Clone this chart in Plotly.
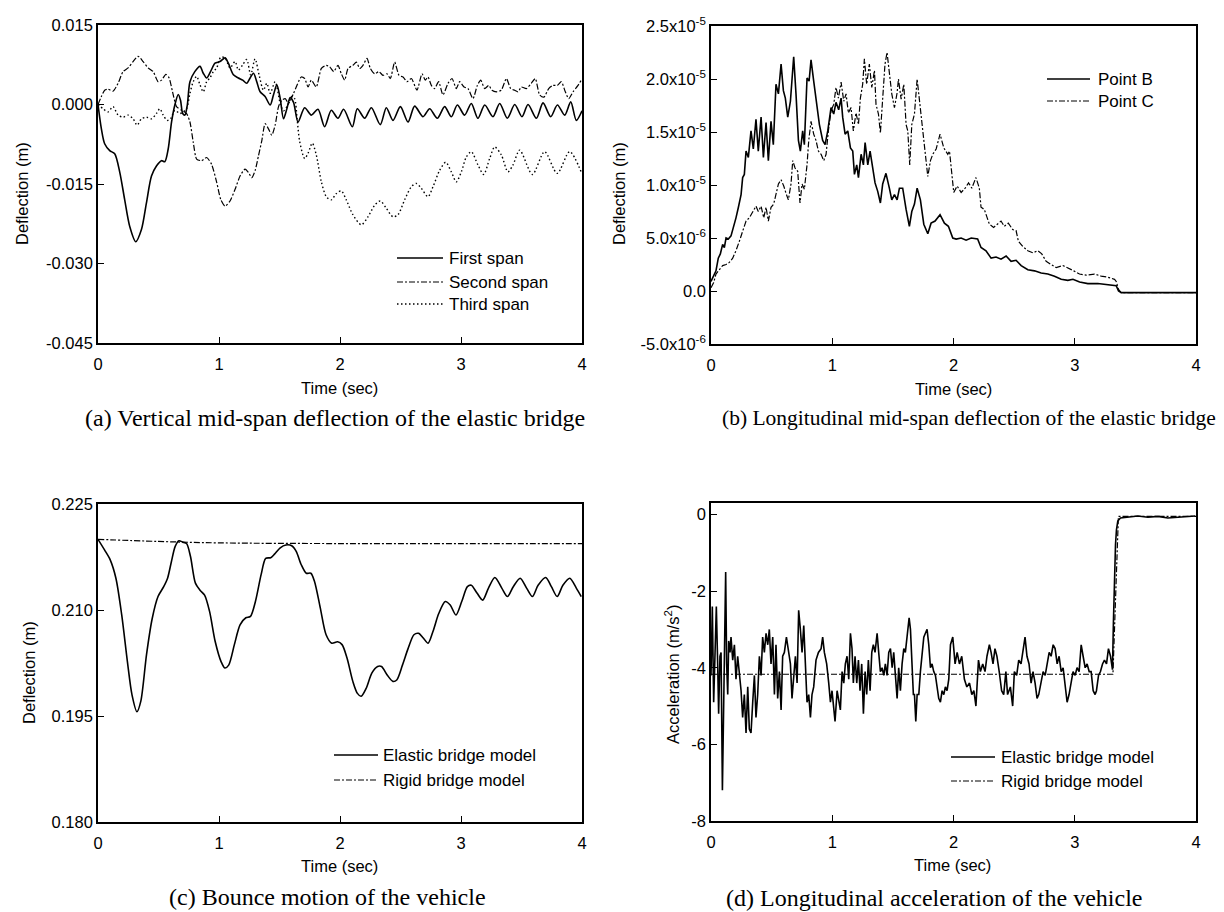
import plotly.graph_objects as go

# ---------------- data ----------------
# (a) vertical mid-span deflection (m)
A_FIRST_T = [0, 0.028, 0.055, 0.097, 0.138, 0.18, 0.22, 0.262, 0.312, 0.359, 0.40, 0.442, 0.483, 0.525, 0.552, 0.58, 0.608, 0.635, 0.663, 0.682, 0.70, 0.718, 0.738, 0.76, 0.80, 0.843, 0.87, 0.898, 0.93, 0.967, 1.008, 1.05, 1.077, 1.119, 1.16, 1.196, 1.229, 1.257, 1.285, 1.312, 1.34, 1.381, 1.423, 1.45, 1.478, 1.506, 1.533, 1.561, 1.588, 1.616,
             1.653, 1.708, 1.763, 1.818, 1.873, 1.928, 1.983, 2.03, 2.102, 2.143, 2.204, 2.259, 2.333, 2.383, 2.438, 2.499, 2.562, 2.617, 2.686, 2.741, 2.804, 2.865, 2.92, 2.97, 3.03, 3.085, 3.14, 3.196, 3.264, 3.32, 3.383, 3.444, 3.504, 3.554, 3.623, 3.678, 3.741, 3.797, 3.857, 3.907, 3.953, 4.0]
A_FIRST_Y = [0, -0.0046, -0.0074, -0.0087, -0.0093, -0.0128, -0.0179, -0.0230, -0.0259, -0.0236, -0.0186, -0.0135, -0.0116, -0.0106, -0.0108, -0.0084, -0.0033, -0.0001, 0.0019, 0.0008, -0.0017, -0.0020, -0.0001, 0.0043, 0.0062, 0.0072, 0.0059, 0.0050, 0.0062, 0.0078, 0.0081, 0.0088, 0.0078, 0.0056, 0.0050, 0.0046, 0.0040, 0.0050, 0.0059, 0.0043, 0.0024, 0.0015, -0.0001, 0.0018, 0.0037, 0.0011, -0.0027, -0.0008, 0.0013, 0.0004,
             -0.0033, -0.0006, -0.0020, -0.0009, -0.0042, -0.0011, -0.0026, -0.0009, -0.0042, -0.0008, -0.0026, -0.0006, -0.0038, -0.0006, -0.0030, -0.0004, -0.0033, -0.0003, -0.0023, -0.0008, -0.0026, -0.0004, -0.0023, -0.0001, -0.0020, 0.0002, -0.0026, -0.0001, -0.0023, 0.0002, -0.0026, 0.0000, -0.0023, 0.0000, -0.0026, 0.0003, -0.0023, -0.0001, -0.0020, 0.0005, -0.0030, -0.0012]

A_SECOND_T = [0, 0.028, 0.055, 0.083, 0.124, 0.166, 0.207, 0.249, 0.29, 0.331, 0.373, 0.414, 0.456, 0.497, 0.525, 0.561, 0.588, 0.616, 0.649, 0.69, 0.732, 0.76, 0.787, 0.815, 0.856, 0.898, 0.939, 0.981, 1.014, 1.05, 1.091, 1.133, 1.174, 1.215, 1.243, 1.271, 1.298, 1.326, 1.354, 1.381, 1.409, 1.436, 1.464, 1.492, 1.519, 1.547, 1.575, 1.616,
              1.68, 1.708, 1.736, 1.763, 1.804, 1.846, 1.887, 1.915, 1.948, 1.983, 2.011, 2.039, 2.066, 2.107, 2.135, 2.163, 2.19, 2.223, 2.251, 2.286, 2.322, 2.355, 2.388, 2.416, 2.452, 2.488, 2.521, 2.554, 2.59, 2.636,
              2.678, 2.705, 2.727, 2.755, 2.782, 2.815, 2.851, 2.893, 2.926, 2.961, 2.989, 3.025, 3.058, 3.099, 3.135, 3.163, 3.196, 3.229, 3.256, 3.292, 3.333, 3.375, 3.411, 3.444, 3.471, 3.499, 3.54, 3.581, 3.614, 3.65, 3.686, 3.725, 3.76, 3.796, 3.829, 3.862, 3.89, 3.926, 3.967, 3.994]
A_SECOND_Y = [0, 0.0015, 0.0027, 0.0029, 0.0025, 0.0040, 0.0062, 0.0069, 0.0081, 0.0091, 0.0081, 0.0069, 0.0062, 0.0043, 0.0046, 0.0057, 0.0050, 0.0024, -0.0004, -0.0011, -0.0017, -0.0033, -0.0071, -0.0103, -0.0106, -0.0100, -0.0113, -0.0147, -0.0179, -0.0192, -0.0182, -0.0160, -0.0135, -0.0122, -0.0128, -0.0138, -0.0125, -0.0097, -0.0068, -0.0036, -0.0046, -0.0058, -0.0039, -0.0004, 0.0008, 0.0011, 0.0002, 0.0021,
              0.0052, 0.0049, 0.0033, 0.0046, 0.0033, 0.0068, 0.0074, 0.0071, 0.0062, 0.0074, 0.0058, 0.0046, 0.0068, 0.0074, 0.0080, 0.0068, 0.0074, 0.0087, 0.0068, 0.0058, 0.0062, 0.0055, 0.0058, 0.0049, 0.0080, 0.0055, 0.0052, 0.0043, 0.0049, 0.0027,
              0.0058, 0.0046, 0.0052, 0.0036, 0.0030, 0.0043, 0.0018, 0.0040, 0.0049, 0.0030, 0.0043, 0.0033, 0.0030, 0.0011, 0.0036, 0.0046, 0.0030, 0.0036, 0.0027, 0.0024, 0.0027, 0.0049, 0.0030, 0.0027, 0.0024, 0.0033, 0.0030, 0.0040, 0.0049, 0.0018, 0.0014, 0.0030, 0.0036, 0.0036, 0.0043, 0.0024, 0.0011, 0.0024, 0.0036, 0.0046]

A_THIRD_T = [0, 0.041, 0.083, 0.124, 0.166, 0.207, 0.249, 0.29, 0.323, 0.359, 0.401, 0.442, 0.483, 0.511, 0.539, 0.572, 0.6, 0.635, 0.677, 0.704, 0.732, 0.76, 0.787, 0.815, 0.843, 0.87, 0.898, 0.925, 0.953, 0.981, 1.014, 1.05, 1.091, 1.133, 1.16, 1.196, 1.229, 1.262, 1.298, 1.334, 1.367, 1.395, 1.423, 1.464, 1.506, 1.533, 1.566, 1.602,
             1.625, 1.645, 1.667, 1.708, 1.736, 1.771, 1.804, 1.846, 1.887, 1.928, 1.97, 2.011, 2.052, 2.107, 2.176, 2.231, 2.287, 2.333, 2.383, 2.438, 2.479, 2.534, 2.59, 2.631, 2.672, 2.727, 2.769, 2.824, 2.873, 2.92, 2.961, 3.003, 3.044, 3.085, 3.14, 3.187, 3.237, 3.278, 3.333, 3.388, 3.43, 3.485, 3.59, 3.691, 3.795, 3.898, 4.0]
A_THIRD_Y = [0, -0.0008, -0.0014, -0.0004, -0.0020, -0.0024, -0.0020, -0.0027, -0.0039, -0.0027, -0.0024, -0.0027, -0.0017, -0.0008, -0.0020, -0.0030, -0.0027, -0.0011, -0.0017, -0.0014, -0.0008, 0.0021, 0.0043, 0.0053, 0.0037, 0.0024, 0.0043, 0.0050, 0.0062, 0.0069, 0.0089, 0.0088, 0.0069, 0.0081, 0.0065, 0.0075, 0.0085, 0.0056, 0.0086, 0.0053, 0.0027, 0.0040, 0.0021, 0.0043, 0.0002, -0.0012, -0.0002, 0.0015,
             0.0011, -0.0026, -0.0070, -0.0102, -0.0092, -0.0073, -0.0095, -0.0146, -0.0174, -0.0180, -0.0168, -0.0163, -0.0180, -0.0208, -0.0227, -0.0212, -0.0190, -0.0182, -0.0196, -0.0212, -0.0208, -0.0180, -0.0155, -0.0149, -0.0158, -0.0174, -0.0155, -0.0124, -0.0109, -0.0127, -0.0146, -0.0127, -0.0099, -0.0089, -0.0114, -0.0132, -0.0102, -0.0080, -0.0095, -0.0127, -0.0114, -0.0086, -0.0132, -0.0089, -0.0130, -0.0089, -0.0131]

# (b) longitudinal mid-span deflection (m)
B_POINTB_T = [0, 0.014, 0.041, 0.06, 0.077, 0.096, 0.11, 0.124, 0.143, 0.165, 0.187, 0.206, 0.226, 0.248, 0.261, 0.275, 0.289, 0.308, 0.33, 0.349, 0.371, 0.39, 0.413, 0.432, 0.454, 0.473, 0.495, 0.514, 0.536, 0.556, 0.578, 0.597, 0.613, 0.633, 0.655, 0.682, 0.701, 0.721, 0.737, 0.756, 0.77, 0.792, 0.809, 0.825, 0.847, 0.866, 0.894, 0.921, 0.941, 0.963, 0.99, 1.012, 1.031, 1.053, 1.073, 1.086, 1.106, 1.128, 1.15, 1.169, 1.183, 1.202, 1.216, 1.238, 1.257, 1.271, 1.293, 1.312, 1.334, 1.353, 1.375, 1.397, 1.416, 1.443, 1.471, 1.491, 1.513, 1.535, 1.554, 1.581, 1.609, 1.636, 1.656, 1.678, 1.7, 1.727, 1.755, 1.788, 1.815, 1.848, 1.889, 1.925, 1.958,
              1.994, 2.022, 2.063, 2.104, 2.146, 2.199, 2.227, 2.268, 2.31, 2.351, 2.392, 2.434, 2.475, 2.516, 2.558, 2.613, 2.668, 2.723, 2.778, 2.833, 2.888, 2.943, 2.985, 3.04, 3.108, 3.19, 3.273, 3.342, 3.361, 3.383, 3.6, 3.8, 4.0]
B_POINTB_Y = [0.9e-6, 1.3e-6, 1.9e-6, 3.1e-6, 3.5e-6, 4.4e-6, 4.1e-6, 5.0e-6, 4.9e-6, 5.2e-6, 6.0e-6, 6.9e-6, 7.9e-6, 9.1e-6, 10.7e-6, 11.0e-6, 13.2e-6, 12.6e-6, 15.1e-6, 13.4e-6, 16.2e-6, 13.2e-6, 16.4e-6, 12.6e-6, 15.9e-6, 12.3e-6, 16.0e-6, 13.8e-6, 19.5e-6, 18.6e-6, 21.4e-6, 18.9e-6, 18.2e-6, 16.4e-6, 17.9e-6, 22.1e-6, 18.6e-6, 14.2e-6, 13.2e-6, 15.1e-6, 13.8e-6, 20.1e-6, 19.8e-6, 21.8e-6, 19.8e-6, 17.9e-6, 15.7e-6, 14.2e-6, 13.8e-6, 15.1e-6, 17.3e-6, 16.7e-6, 17.8e-6, 17.1e-6, 18.2e-6, 16.4e-6, 14.8e-6, 15.1e-6, 13.5e-6, 13.2e-6, 11.0e-6, 11.9e-6, 10.7e-6, 12.9e-6, 11.9e-6, 14.0e-6, 11.9e-6, 13.2e-6, 11.6e-6, 10.2e-6, 9.4e-6, 8.3e-6, 10.1e-6, 11.1e-6, 9.7e-6, 8.6e-6, 9.1e-6, 8.6e-6, 9.7e-6, 9.7e-6, 7.7e-6, 6.1e-6, 7.5e-6, 8.2e-6, 9.7e-6, 8.6e-6, 6.3e-6, 5.4e-6, 6.4e-6, 6.6e-6, 7.2e-6, 6.4e-6, 6.1e-6,
              5.0e-6, 4.9e-6, 5.0e-6, 4.8e-6, 5.0e-6, 4.9e-6, 4.1e-6, 3.8e-6, 3.1e-6, 3.2e-6, 3.0e-6, 3.3e-6, 2.8e-6, 2.9e-6, 2.4e-6, 2.0e-6, 1.9e-6, 1.7e-6, 1.6e-6, 1.4e-6, 1.1e-6, 1.0e-6, 1.1e-6, 0.85e-6, 0.7e-6, 0.7e-6, 0.6e-6, 0.5e-6, 0.0, -0.15e-6, -0.15e-6, -0.15e-6, -0.15e-6]

B_POINTC_T = [0, 0.022, 0.041, 0.069, 0.096, 0.124, 0.151, 0.179, 0.206, 0.234, 0.261, 0.289, 0.316, 0.344, 0.371, 0.39, 0.413, 0.435, 0.454, 0.473, 0.495, 0.517, 0.536, 0.556, 0.578, 0.6, 0.622, 0.638, 0.66, 0.674, 0.693, 0.715, 0.734, 0.751, 0.77, 0.792, 0.806, 0.825, 0.847, 0.866, 0.886, 0.908, 0.93, 0.949, 0.968, 0.99, 1.012, 1.031, 1.051, 1.073, 1.095, 1.114, 1.133, 1.155, 1.174, 1.196, 1.216, 1.232, 1.251, 1.265, 1.284, 1.306, 1.326, 1.348, 1.361, 1.381, 1.397, 1.416, 1.435, 1.452, 1.471, 1.491, 1.513, 1.535, 1.546, 1.568, 1.59, 1.609, 1.623, 1.639, 1.656, 1.678, 1.7, 1.722, 1.747, 1.766, 1.788, 1.81, 1.829, 1.857, 1.889, 1.92, 1.953,
              1.967, 1.986, 2.002, 2.03, 2.063, 2.096, 2.124, 2.151, 2.185, 2.213, 2.227, 2.254, 2.296, 2.331, 2.364, 2.392, 2.419, 2.452, 2.488, 2.516, 2.535, 2.571, 2.613, 2.654, 2.695, 2.728, 2.764, 2.806, 2.847, 2.902, 2.943, 2.992, 3.039, 3.094, 3.163, 3.218, 3.273, 3.328, 3.342, 3.361, 3.383, 3.6, 3.8, 4.0]
B_POINTC_Y = [0.3e-6, 0.8e-6, 1.6e-6, 2.0e-6, 2.4e-6, 2.5e-6, 2.7e-6, 3.1e-6, 3.8e-6, 4.7e-6, 5.7e-6, 6.6e-6, 6.9e-6, 7.5e-6, 8.0e-6, 7.5e-6, 8.0e-6, 6.9e-6, 7.9e-6, 6.6e-6, 7.9e-6, 8.2e-6, 9.3e-6, 10.1e-6, 10.5e-6, 9.9e-6, 9.1e-6, 8.6e-6, 10.1e-6, 12.3e-6, 11.6e-6, 11.3e-6, 8.3e-6, 10.1e-6, 9.6e-6, 11.9e-6, 14.2e-6, 16.0e-6, 14.8e-6, 14.2e-6, 13.2e-6, 12.9e-6, 12.3e-6, 12.9e-6, 15.1e-6, 17.0e-6, 17.6e-6, 19.2e-6, 18.2e-6, 19.7e-6, 17.9e-6, 18.6e-6, 16.8e-6, 17.3e-6, 15.1e-6, 16.8e-6, 15.7e-6, 18.2e-6, 19.5e-6, 21.9e-6, 19.5e-6, 21.4e-6, 19.2e-6, 20.8e-6, 17.6e-6, 16.7e-6, 14.9e-6, 18.2e-6, 21.4e-6, 22.5e-6, 20.8e-6, 18.6e-6, 17.3e-6, 18.7e-6, 20.0e-6, 18.1e-6, 19.5e-6, 15.7e-6, 15.1e-6, 11.9e-6, 15.7e-6, 16.7e-6, 20.0e-6, 17.6e-6, 14.8e-6, 13.2e-6, 10.8e-6, 12.3e-6, 12.9e-6, 13.4e-6, 14.8e-6, 13.5e-6, 12.9e-6,
              13.2e-6, 11.3e-6, 9.3e-6, 9.9e-6, 9.3e-6, 9.7e-6, 10.2e-6, 9.7e-6, 10.7e-6, 9.7e-6, 7.9e-6, 7.7e-6, 6.3e-6, 6.0e-6, 6.3e-6, 6.6e-6, 6.1e-6, 6.4e-6, 5.8e-6, 5.7e-6, 4.7e-6, 4.2e-6, 3.8e-6, 3.6e-6, 3.8e-6, 3.5e-6, 2.8e-6, 2.5e-6, 2.2e-6, 2.4e-6, 2.2e-6, 1.9e-6, 1.6e-6, 1.5e-6, 1.6e-6, 1.4e-6, 1.3e-6, 1.1e-6, 0.9e-6, 0.15e-6, -0.15e-6, -0.15e-6, -0.15e-6, -0.15e-6]

# (c) bounce motion of the vehicle (m)
C_ELASTIC_T = [0, 0.054, 0.101, 0.148, 0.196, 0.243, 0.281, 0.322, 0.354, 0.401, 0.448, 0.496, 0.543, 0.575, 0.606, 0.638, 0.669, 0.701, 0.732, 0.764, 0.805, 0.843, 0.881, 0.922, 0.969, 1.017, 1.048, 1.08, 1.127, 1.174, 1.222, 1.26, 1.301, 1.348, 1.386, 1.427, 1.459, 1.506, 1.553, 1.601, 1.638, 1.68, 1.721, 1.759, 1.79, 1.837, 1.885, 1.932, 1.98, 2.017, 2.058, 2.106, 2.144, 2.175, 2.216, 2.264, 2.311, 2.343, 2.39, 2.437, 2.469, 2.516, 2.564, 2.611, 2.649, 2.69, 2.728, 2.769, 2.816, 2.87, 2.911, 2.958, 3.006, 3.053, 3.085, 3.132, 3.179, 3.227, 3.28, 3.337, 3.384, 3.432, 3.489, 3.542, 3.59, 3.637, 3.7, 3.747, 3.795, 3.842, 3.899, 3.953, 3.994]
C_ELASTIC_Y = [0.2200, 0.2185, 0.2171, 0.2145, 0.2093, 0.2027, 0.1980, 0.1956, 0.1971, 0.2037, 0.2088, 0.2119, 0.2133, 0.2145, 0.2168, 0.2190, 0.2198, 0.2196, 0.2194, 0.2176, 0.2138, 0.2128, 0.2121, 0.2098, 0.2055, 0.2027, 0.2018, 0.2022, 0.2051, 0.2079, 0.2089, 0.2091, 0.2112, 0.2150, 0.2173, 0.2174, 0.2179, 0.2188, 0.2192, 0.2191, 0.2183, 0.2164, 0.2152, 0.2152, 0.2140, 0.2103, 0.2065, 0.2053, 0.2055, 0.2051, 0.2032, 0.1999, 0.1982, 0.1978, 0.1989, 0.2011, 0.2020, 0.2020, 0.2008, 0.1999, 0.2001, 0.2022, 0.2046, 0.2065, 0.2067, 0.2060, 0.2053, 0.2070, 0.2095, 0.2112, 0.2107, 0.2093, 0.2112, 0.2133, 0.2135, 0.2124, 0.2114, 0.2131, 0.2146, 0.2131, 0.2119, 0.2133, 0.2145, 0.2131, 0.2119, 0.2135, 0.2146, 0.2133, 0.2119, 0.2135, 0.2145, 0.2131, 0.2119]
C_RIGID_T = [0, 0.5, 1.0, 2.0, 3.0, 4.0]
C_RIGID_Y = [0.2200, 0.2197, 0.2195, 0.2194, 0.2194, 0.2194]

# (d) longitudinal acceleration of the vehicle (m/s^2)
D_ELASTIC_T = [0, 0.011, 0.022, 0.033, 0.044, 0.055, 0.063, 0.074, 0.083, 0.094, 0.105, 0.113, 0.121, 0.129, 0.138, 0.146, 0.157, 0.165, 0.179, 0.193, 0.206, 0.22, 0.234, 0.248, 0.261, 0.275, 0.289, 0.303, 0.316, 0.33, 0.344, 0.358, 0.371, 0.385, 0.399, 0.413, 0.426, 0.44, 0.454, 0.468, 0.481, 0.495, 0.509, 0.523, 0.536, 0.55, 0.564, 0.578, 0.591, 0.605, 0.622, 0.638, 0.655, 0.668, 0.682, 0.696, 0.71, 0.723, 0.737, 0.751, 0.765, 0.778, 0.792, 0.806, 0.82, 0.833, 0.847, 0.866, 0.886, 0.908, 0.921, 0.935, 0.954, 0.971, 0.985, 0.998, 1.012, 1.023, 1.04, 1.053, 1.067, 1.081, 1.095, 1.108, 1.122, 1.136, 1.15, 1.163, 1.174, 1.188, 1.202, 1.216, 1.229, 1.243, 1.257, 1.271, 1.284, 1.298, 1.312, 1.326, 1.339, 1.353, 1.37, 1.383, 1.397, 1.411, 1.425, 1.438, 1.452, 1.466, 1.48, 1.494, 1.507, 1.521, 1.535, 1.548, 1.562, 1.576, 1.59, 1.603, 1.617, 1.634, 1.645, 1.656, 1.669, 1.678, 1.689, 1.7, 1.714, 1.727, 1.741, 1.755, 1.768, 1.782, 1.796, 1.81, 1.823, 1.837, 1.851, 1.865, 1.878, 1.892, 1.906, 1.92, 1.933, 1.947, 1.961,
               1.975, 1.994, 2.013, 2.03, 2.049, 2.068, 2.09, 2.11, 2.132, 2.151, 2.168, 2.185, 2.206, 2.222, 2.241, 2.26, 2.276, 2.296, 2.31, 2.326, 2.342, 2.358, 2.377, 2.397, 2.414, 2.432, 2.446, 2.469, 2.488, 2.502, 2.521, 2.538, 2.557, 2.573, 2.59, 2.606, 2.623, 2.64, 2.656, 2.673, 2.689, 2.703, 2.723, 2.739, 2.756, 2.772, 2.789, 2.805, 2.822, 2.838, 2.855, 2.871, 2.888, 2.904, 2.921, 2.937, 2.953, 2.97, 2.986, 3.003, 3.019, 3.036, 3.053, 3.069, 3.086, 3.102, 3.119, 3.135, 3.152, 3.168, 3.179, 3.196, 3.212, 3.229, 3.245, 3.262, 3.278, 3.295, 3.311, 3.319, 3.328, 3.336, 3.344, 3.355, 3.377, 3.438, 3.52, 3.603, 3.685, 3.768, 3.878, 3.993]
D_ELASTIC_Y = [-4.2, -2.4, -4.9, -3.2, -2.4, -3.9, -5.2, -3.7, -3.6, -7.2, -4.7, -2.2, -1.5, -3.9, -4.7, -3.3, -3.6, -3.2, -3.8, -3.4, -4.3, -3.7, -4.1, -4.6, -5.3, -4.7, -5.7, -4.5, -5.6, -5.7, -4.9, -4.2, -5.3, -4.7, -3.7, -4.2, -3.2, -3.6, -3.1, -3.4, -3.0, -3.9, -3.2, -4.7, -3.4, -4.8, -4.1, -5.1, -3.7, -3.6, -3.2, -3.6, -3.9, -4.8, -4.1, -3.7, -4.4, -2.5, -3.0, -3.6, -2.9, -3.7, -4.9, -4.7, -5.3, -4.7, -4.5, -3.8, -3.6, -3.5, -3.2, -3.6, -3.9, -4.4, -4.9, -4.6, -5.1, -5.4, -4.6, -4.9, -5.1, -4.1, -4.4, -3.9, -3.7, -4.3, -3.1, -3.5, -4.4, -3.7, -4.4, -3.8, -4.6, -3.9, -5.2, -4.1, -4.7, -3.8, -4.6, -3.6, -3.4, -3.6, -3.1, -3.6, -4.1, -4.0, -4.2, -3.9, -4.2, -3.6, -3.5, -4.0, -3.6, -4.2, -4.8, -4.0, -4.6, -3.9, -3.5, -3.6, -3.2, -2.7, -3.0, -4.0, -4.7, -4.7, -5.4, -4.7, -4.7, -4.1, -3.6, -3.2, -3.1, -3.0, -3.4, -4.0, -3.9, -4.1, -4.2, -4.6, -4.8, -4.9, -4.6, -4.7, -4.5, -4.6, -4.3,
               -3.4, -3.2, -3.9, -3.6, -3.9, -3.7, -4.3, -4.5, -4.4, -4.7, -4.6, -5.0, -3.8, -4.1, -3.9, -4.1, -3.7, -3.4, -3.6, -3.9, -3.5, -3.7, -4.1, -4.6, -4.7, -4.1, -4.7, -4.5, -5.0, -4.1, -4.2, -3.8, -3.9, -3.6, -3.2, -3.7, -3.9, -4.4, -4.1, -4.4, -4.8, -4.7, -4.4, -4.1, -4.2, -3.9, -3.6, -3.7, -3.4, -3.5, -3.9, -3.7, -4.1, -4.0, -4.4, -4.9, -4.7, -4.4, -4.1, -4.2, -4.0, -4.1, -3.4, -3.7, -4.0, -3.9, -4.1, -4.1, -4.6, -4.7, -4.6, -4.2, -4.1, -3.9, -3.8, -3.9, -3.5, -3.7, -4.05, -2.8, -1.5, -0.8, -0.4, -0.17, -0.09, -0.07, -0.04, -0.07, -0.05, -0.09, -0.06, -0.04]
D_RIGID_T = [0, 1.0, 2.0, 3.0, 3.315, 3.36, 4.0]
D_RIGID_Y = [-4.17, -4.17, -4.17, -4.17, -4.17, -0.05, -0.05]

X_TICKS = [0, 1, 2, 3, 4]
A_YTICKS = [-0.045, -0.030, -0.015, 0.0, 0.015]
A_YTEXT = ["-0.045", "-0.030", "-0.015", "0.000", "0.015"]
B_YTICKS = [-5e-6, 0, 5e-6, 1e-5, 1.5e-5, 2e-5, 2.5e-5]
B_YTEXT = ["-5.0x10<sup>-6</sup>", "0.0", "5.0x10<sup>-6</sup>", "1.0x10<sup>-5</sup>",
           "1.5x10<sup>-5</sup>", "2.0x10<sup>-5</sup>", "2.5x10<sup>-5</sup>"]
C_YTICKS = [0.180, 0.195, 0.210, 0.225]
C_YTEXT = ["0.180", "0.195", "0.210", "0.225"]
D_YTICKS = [-8, -6, -4, -2, 0]
D_YTEXT = ["-8", "-6", "-4", "-2", "0"]

# ---------------- layout helpers ----------------
W, H = 1224, 912
SANS = "Liberation Sans, Arial, Helvetica, sans-serif"
SERIF = "Liberation Serif, Times New Roman, serif"
FS = 16.5
FS_LEG = 17


def fx(px):
    return px / W


def fy(py):
    return 1 - py / H


# pixel boxes: left, right, top, bottom
BOX = {
    "a": (90, 574, 17, 335),
    "b": (703, 1188, 18, 336),
    "c": (90, 574, 496, 814),
    "d": (703, 1188, 495, 813),
}

fig = go.Figure()

SOLID = dict(color="black", width=1.6)
DASHDOT = dict(color="black", width=1.2, dash="6px,2px,2px,2px")
DOTTED = dict(color="black", width=1.4, dash="1.5px,2.5px")

fig.add_trace(go.Scatter(x=A_FIRST_T, y=A_FIRST_Y, mode="lines", line=dict(SOLID, shape="spline", smoothing=0.8), xaxis="x", yaxis="y"))
fig.add_trace(go.Scatter(x=A_SECOND_T, y=A_SECOND_Y, mode="lines", line=dict(DASHDOT, shape="spline", smoothing=0.6), xaxis="x", yaxis="y"))
fig.add_trace(go.Scatter(x=A_THIRD_T, y=A_THIRD_Y, mode="lines", line=dict(DOTTED, shape="spline", smoothing=0.8), xaxis="x", yaxis="y"))

fig.add_trace(go.Scatter(x=B_POINTC_T, y=B_POINTC_Y, mode="lines", line=DASHDOT, xaxis="x2", yaxis="y2"))
fig.add_trace(go.Scatter(x=B_POINTB_T, y=B_POINTB_Y, mode="lines", line=SOLID, xaxis="x2", yaxis="y2"))

fig.add_trace(go.Scatter(x=C_RIGID_T, y=C_RIGID_Y, mode="lines", line=dict(DASHDOT, shape="spline"), xaxis="x3", yaxis="y3"))
fig.add_trace(go.Scatter(x=C_ELASTIC_T, y=C_ELASTIC_Y, mode="lines", line=dict(SOLID, shape="spline", smoothing=0.8), xaxis="x3", yaxis="y3"))

fig.add_trace(go.Scatter(x=D_ELASTIC_T, y=D_ELASTIC_Y, mode="lines", line=SOLID, xaxis="x4", yaxis="y4"))
fig.add_trace(go.Scatter(x=D_RIGID_T, y=D_RIGID_Y, mode="lines", line=DASHDOT, xaxis="x4", yaxis="y4"))


def axis_common():
    return dict(showline=True, linecolor="black", linewidth=1.6, mirror=True,
                ticks="inside", ticklen=6, tickwidth=1.3, tickcolor="black",
                showgrid=False, zeroline=False, automargin=False,
                tickfont=dict(family=SANS, size=FS, color="black"))


layout_axes = {}
for i, key, yt, ytx, yr in [
    (1, "a", A_YTICKS, A_YTEXT, [-0.045, 0.015]),
    (2, "b", B_YTICKS, B_YTEXT, [-5e-6, 2.5e-5]),
    (3, "c", C_YTICKS, C_YTEXT, [0.180, 0.225]),
    (4, "d", D_YTICKS, D_YTEXT, [-8, 0.3]),
]:
    l, r, t, b = BOX[key]
    sx = "" if i == 1 else str(i)
    xa = axis_common()
    xa.update(domain=[fx(l), fx(r)], range=[0, 4], tickvals=X_TICKS,
              ticktext=[str(v) for v in X_TICKS], anchor="y" + sx,
              ticklabelstandoff=5)
    ya = axis_common()
    ya.update(domain=[fy(b), fy(t)], range=yr, tickvals=yt, ticktext=ytx,
              anchor="x" + sx)
    layout_axes["xaxis" + sx] = xa
    layout_axes["yaxis" + sx] = ya

fig.update_layout(**layout_axes)

ann = []
# axis titles
for (xc, yc) in [(331, 380), (945, 381), (331, 858), (944, 857)]:
    ann.append(dict(x=fx(xc), y=fy(yc), xref="paper", yref="paper", text="Time (sec)",
                    showarrow=False, xanchor="center", yanchor="middle",
                    font=dict(family=SANS, size=FS, color="black")))
for (xc, yc, txt) in [(14, 186, "Deflection (m)"), (611, 186, "Deflection (m)"),
                      (21, 665, "Deflection (m)"), (664, 667, "Acceleration (m/s<sup>2</sup>)")]:
    ann.append(dict(x=fx(xc), y=fy(yc), xref="paper", yref="paper", text=txt,
                    textangle=-90, showarrow=False, xanchor="center", yanchor="middle",
                    font=dict(family=SANS, size=FS, color="black")))

# captions
for (xc, yc, sz, anchor, txt) in [
    (327, 410, 24, "center", "(a) Vertical mid-span deflection of the elastic bridge"),
    (1210, 410, 21.5, "right", "(b) Longitudinal mid-span deflection of the elastic bridge"),
    (319, 889, 24, "center", "(c) Bounce motion of the vehicle"),
    (926, 890, 24, "center", "(d) Longitudinal acceleration of the vehicle"),
]:
    ann.append(dict(x=fx(xc), y=fy(yc), xref="paper", yref="paper", text=txt,
                    showarrow=False, xanchor=anchor, yanchor="middle",
                    font=dict(family=SERIF, size=sz, color="black")))

# legends (drawn manually)
shapes = []
LEG = [
    # x0, x1, text_x, y, style, label
    (389, 435, 439, 250, SOLID, "First span"),
    (389, 435, 439, 274, DASHDOT, "Second span"),
    (389, 435, 439, 296, DOTTED, "Third span"),
    (1039, 1082, 1088, 71, SOLID, "Point B"),
    (1039, 1082, 1088, 93, DASHDOT, "Point C"),
    (326, 370, 373, 747, SOLID, "Elastic bridge model"),
    (326, 370, 373, 772, DASHDOT, "Rigid bridge model"),
    (943, 987, 991, 749, SOLID, "Elastic bridge model"),
    (943, 987, 991, 773, DASHDOT, "Rigid bridge model"),
]
for x0, x1, tx, yy, st, label in LEG:
    shapes.append(dict(type="line", xref="paper", yref="paper",
                       x0=fx(x0), x1=fx(x1), y0=fy(yy), y1=fy(yy), line=st))
    ann.append(dict(x=fx(tx), y=fy(yy), xref="paper", yref="paper", text=label,
                    showarrow=False, xanchor="left", yanchor="middle",
                    font=dict(family=SANS, size=FS_LEG, color="black")))

fig.update_layout(
    width=W, height=H, margin=dict(l=0, r=0, t=0, b=0, autoexpand=False),
    paper_bgcolor="white", plot_bgcolor="white",
    showlegend=False, annotations=ann, shapes=shapes,
    font=dict(family=SANS, size=FS, color="black"),
)

fig.write_html("out.html")
